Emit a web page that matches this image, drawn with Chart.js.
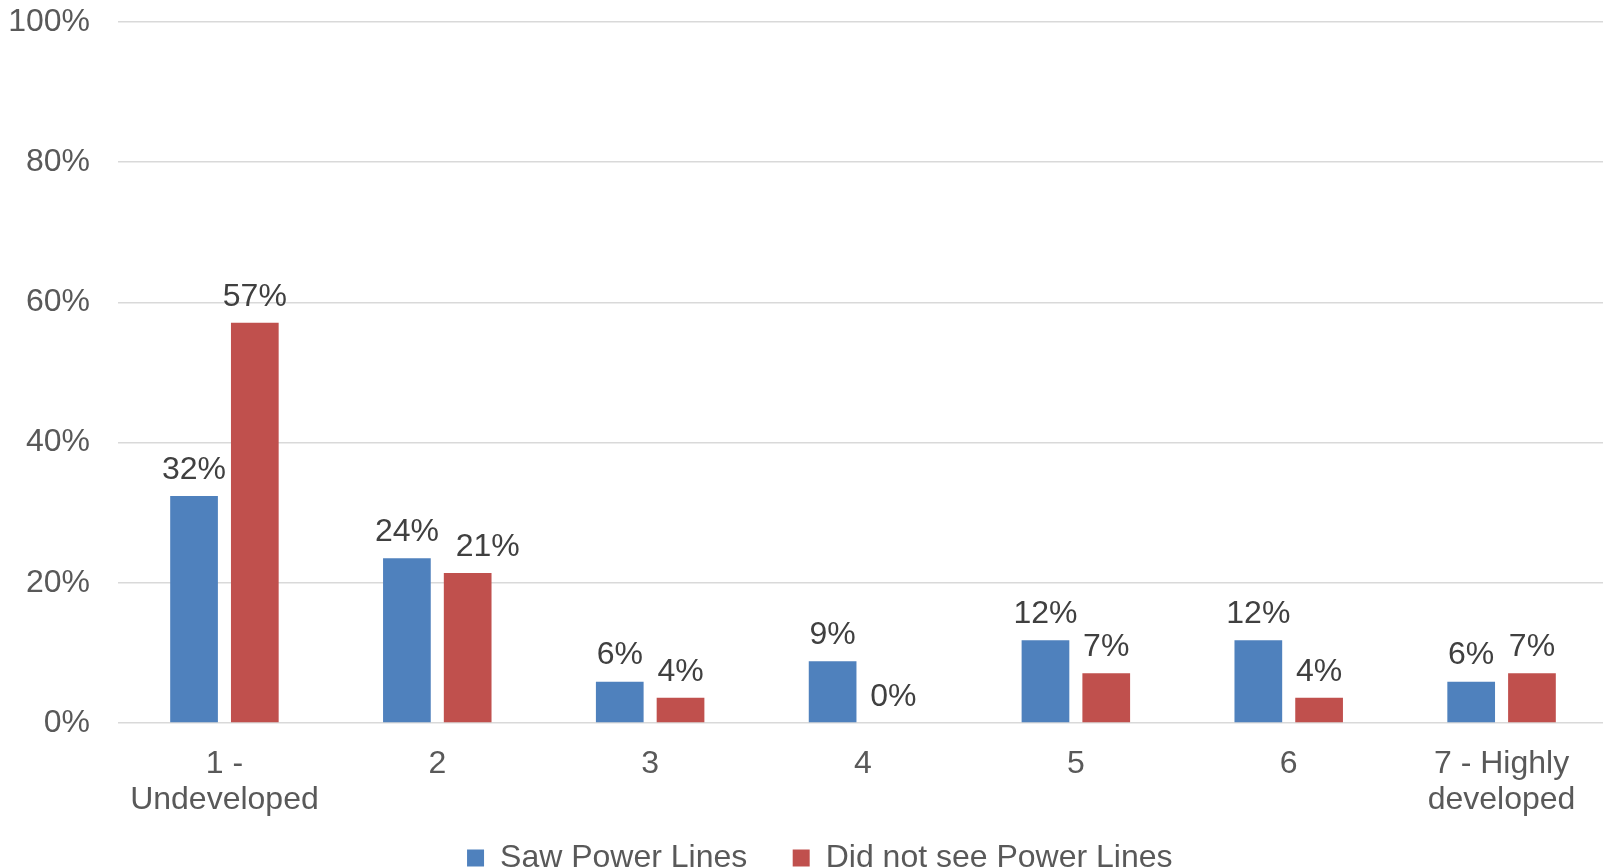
<!DOCTYPE html>
<html>
<head>
<meta charset="utf-8">
<script src="https://cdn.jsdelivr.net/npm/chart.js@4.4.0/dist/chart.umd.min.js"></script>
<style>
  html, body { margin: 0; padding: 0; background: #ffffff; overflow: hidden; }
  #wrap { width: 1608px; height: 868px; position: relative; }
</style>
</head>
<body>
<div id="wrap"><canvas id="c"></canvas></div>
<script>
const categories = [['1 -', 'Undeveloped'], '2', '3', '4', '5', '6', ['7 - Highly', 'developed']];
const sawPowerLines = [32.4, 23.5, 5.9, 8.8, 11.8, 11.8, 5.9];
const didNotSeePowerLines = [57.1, 21.4, 3.6, 0, 7.1, 3.6, 7.1];
const seriesNames = ['Saw Power Lines', 'Did not see Power Lines'];
const yTicks = [0, 20, 40, 60, 80, 100];

const FONT = "'Liberation Sans', Arial, sans-serif";
const FS = 32;

const barLabels = {
  id: 'barLabels',
  afterDatasetsDraw(chart, args, opts) {
    const ctx = chart.ctx;
    const shift = opts.shift || {};
    ctx.save();
    ctx.font = FS + 'px ' + FONT;
    ctx.fillStyle = '#404040';
    ctx.textAlign = 'center';
    ctx.textBaseline = 'middle';
    chart.data.datasets.forEach((ds, i) => {
      const meta = chart.getDatasetMeta(i);
      meta.data.forEach((el, j) => {
        const dx = shift[i + ',' + j] || 0;
        ctx.fillText(Math.round(ds.data[j]) + '%', el.x + dx, el.y - 26);
      });
    });
    ctx.restore();
  }
};

new Chart(document.getElementById('c'), {
  type: 'bar',
  data: {
    labels: categories,
    datasets: [
      { label: seriesNames[0], data: sawPowerLines, backgroundColor: '#4F81BD', borderWidth: 0 },
      { label: seriesNames[1], data: didNotSeePowerLines, backgroundColor: '#C0504D', borderWidth: 0 }
    ]
  },
  options: {
    responsive: true,
    maintainAspectRatio: false,
    animation: false,
    datasets: { bar: { categoryPercentage: 0.571, barPercentage: 0.785 } },
    layout: { autoPadding: false, padding: { top: 22, right: 0, left: 0, bottom: -16 } },
    plugins: {
      barLabels: { shift: { '1,1': 20 } },
      legend: {
        position: 'bottom',
        fullSize: false,
        labels: {
          font: { family: FONT, size: FS },
          color: '#595959',
          boxWidth: 17,
          boxHeight: 17,
          padding: 23,
          generateLabels(chart) {
            const items = Chart.defaults.plugins.legend.labels.generateLabels(chart);
            items.forEach((it, i) => {
              it.text = it.text + (i < items.length - 1 ? '\u2002\u2009' : '\u2003\u2003\u2002\u2009');
            });
            return items;
          }
        }
      },
      tooltip: { enabled: false }
    },
    scales: {
      x: {
        grid: { display: false },
        border: { display: false },
        ticks: {
          font: { family: FONT, size: FS, lineHeight: 1.1 },
          color: '#595959',
          padding: 16,
          maxRotation: 0,
          autoSkip: false
        },
        afterFit(scale) { scale.height = 96; scale.paddingLeft = 0; scale.paddingRight = 0; }
      },
      y: {
        min: 0,
        max: 100,
        afterBuildTicks(scale) { scale.ticks = yTicks.map(v => ({ value: v })); },
        grid: { color: '#D9D9D9', lineWidth: 1.5, drawTicks: false },
        border: { display: false },
        ticks: {
          font: { family: FONT, size: FS },
          color: '#595959',
          padding: 28,
          callback: v => v + '%'
        },
        afterFit(scale) { scale.width = 118; scale.paddingTop = 0; scale.paddingBottom = 0; }
      }
    }
  },
  plugins: [barLabels]
});
</script>
</body>
</html>
